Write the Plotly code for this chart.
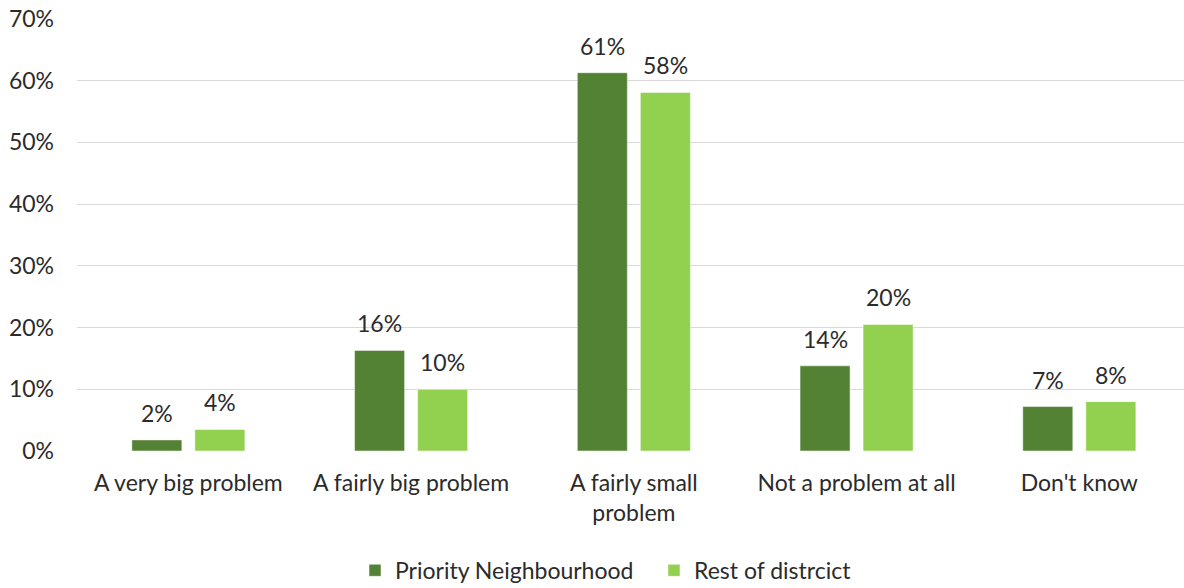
import plotly.graph_objects as go

categories = ["A very big problem", "A fairly big problem", "A fairly small<br>problem",
              "Not a problem at all", "Don't know"]
priority = [1.8, 16.3, 61.3, 13.8, 7.2]
rest = [3.5, 10.0, 58.1, 20.5, 8.0]
priority_labels = ["2%", "16%", "61%", "14%", "7%"]
rest_labels = ["4%", "10%", "58%", "20%", "8%"]
y_ticks = [0, 10, 20, 30, 40, 50, 60, 70]
y_tick_labels = [f"{v}%" for v in y_ticks]

FONT = "Lato"
TXT = "#2b2b2b"
FS = 23

BARGAP = 0.434
GROUPGAP = 0.206
slot = (1 - BARGAP) / 2
off = slot / 2

xs = list(range(len(categories)))

fig = go.Figure()
fig.add_trace(go.Bar(
    name="Priority Neighbourhood", x=xs, y=priority,
    marker=dict(color="#548235", line=dict(color="#ffffff", width=0.5)),
))
fig.add_trace(go.Bar(
    name="Rest of distrcict", x=xs, y=rest,
    marker=dict(color="#92D050", line=dict(color="#ffffff", width=0.5)),
))

for i in xs:
    fig.add_annotation(x=i - off, y=priority[i], text=priority_labels[i], showarrow=False,
                       yanchor="bottom", yshift=11, font=dict(family=FONT, size=FS, color=TXT))
    fig.add_annotation(x=i + off, y=rest[i], text=rest_labels[i], showarrow=False,
                       yanchor="bottom", yshift=11, font=dict(family=FONT, size=FS, color=TXT))

fig.update_layout(
    width=1184, height=588,
    margin=dict(l=77, r=0, t=19, b=137),
    paper_bgcolor="white", plot_bgcolor="white",
    barmode="group", bargap=BARGAP, bargroupgap=GROUPGAP,
    font=dict(family=FONT, size=FS, color=TXT),
    showlegend=True,
    legend=dict(orientation="h", x=355 / 1184, xref="container", xanchor="left",
                y=0.03, yref="container", yanchor="middle",
                font=dict(family=FONT, size=FS, color=TXT), itemwidth=30,
                entrywidth=254, entrywidthmode="pixels",
                traceorder="normal"),
)
fig.update_xaxes(
    range=[-0.5, 4.47], tickmode="array", tickvals=xs, ticktext=categories,
    showgrid=False, zeroline=False, showline=False, ticks="", automargin=False,
    tickfont=dict(family=FONT, size=FS, color=TXT), ticklabelstandoff=16,
)
fig.update_yaxes(
    range=[0, 70], tickmode="array", tickvals=y_ticks, ticktext=y_tick_labels,
    showgrid=True, gridcolor="#d9d9d9", gridwidth=1.3, zeroline=False, showline=False,
    tickfont=dict(family=FONT, size=FS, color=TXT), ticks="", ticklabelstandoff=22,
    automargin=False,
)

fig.write_html("out.html")
